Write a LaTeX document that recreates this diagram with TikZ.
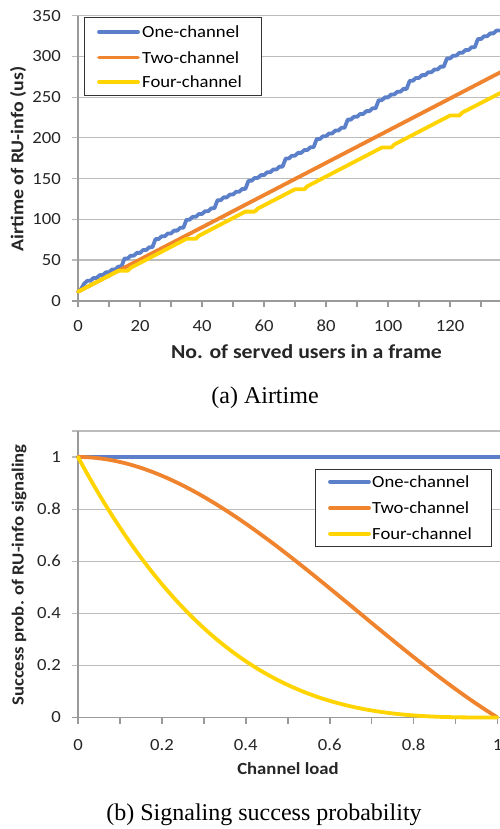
\documentclass[tikz,border=0pt]{standalone}
\usepackage{fontspec}
\setmainfont{Carlito}[FakeStretch=1.1]
\newfontfamily\capfont{Liberation Serif}
\definecolor{cblue}{HTML}{5B7FC8}
\definecolor{corange}{HTML}{F0842E}
\definecolor{cyellow}{HTML}{FFD400}
\definecolor{gridc}{HTML}{BCBCBC}
\definecolor{axisc}{HTML}{9A9A9A}
\definecolor{txt}{HTML}{262626}
\begin{document}
\begin{tikzpicture}[x=1pt,y=-1pt,
  gridline/.style={draw=gridc, line width=1.2pt},
  axisline/.style={draw=axisc, line width=1.6pt},
  series/.style={line width=3.8pt, line join=round, line cap=round},
  ticklab/.style={font=\fontsize{17}{17}\selectfont, text=txt, inner sep=0pt},
  axtitle/.style={font=\fontsize{17}{17}\selectfont\bfseries, text=txt, inner sep=0pt},
  legbox/.style={draw=black!80, line width=1pt, fill=white},
  legtext/.style={font=\fontsize{17}{17}\selectfont, text=black, inner sep=0pt, anchor=west},
  captext/.style={font=\capfont\fontsize{24}{24}\selectfont, inner sep=0pt, anchor=base}]

\fill[white] (0,0) rectangle (500,829);
\useasboundingbox (0,0) rectangle (500,829);

% ---------------- plot (a) ----------------
\foreach \v in {50,100,...,350} {
  \draw[gridline] (72,{300.7-0.8143*\v}) -- (500,{300.7-0.8143*\v});
}
\draw[axisline] (78,15.7) -- (78,306.7);
\draw[axisline] (72,300.7) -- (500,300.7);
\foreach \n in {10,20,...,130} {
  \draw[axisline] ({78+3.1*\n},300.7) -- ({78+3.1*\n},306.7);
}
\foreach \v in {0,50,...,350} {
  \node[ticklab, anchor=east] (ya\v) at (61,{300.7-0.8143*\v}) {\v};
}
\foreach \n in {0,20,...,120} {
  \node[ticklab, anchor=base] (xa\n) at ({78+3.1*\n},331) {\n};
}
\node[axtitle, rotate=90, font=\fontsize{18}{18}\selectfont\bfseries] (ytitleA) at (18,159) {Airtime of RU-info (us)};
\node[axtitle, anchor=base, font=\fontsize{19.8}{20}\selectfont\bfseries] (xtitleA) at (306.5,358.3) {No. of served users in a frame};

\begin{scope}[shift={(78,300.7)}, xscale=3.1, yscale=-0.8143]
  \draw[series, cblue] plot[domain=0:136, samples=137]
    (\x,{11+3.474*floor((\x+1.5)/2)+6.5*((\x>1.5)+(\x>14.5)+(\x>24.5)+(\x>34.5)+(\x>44.5)+(\x>54.5)+(\x>66.5)+(\x>76.5)+(\x>86.5)+(\x>96.5)+(\x>106.5)+(\x>118.5)+(\x>128.5))});
  \draw[series, corange] (0,11) -- (136.2,280.4);
  \draw[series, cyellow] (0,11) -- (13,36.71) -- (16,36.71) -- (17,40.43)
    -- (35,76.03) -- (38,76.03) -- (39,79.74) -- (54,109.41) -- (57,109.41)
    -- (58,113.12) -- (70,136.86) -- (73,136.86) -- (74,140.57) -- (98,188.04)
    -- (101,188.04) -- (102,191.76) -- (120,227.36) -- (123,227.36)
    -- (124,231.07) -- (136.2,255.0);
\end{scope}

\draw[legbox] (84,18) rectangle (261,96);
\draw[series, cblue] (99,32) -- (138,32);
\draw[series, corange] (99,57.5) -- (138,57.5);
\draw[series, cyellow] (99,82) -- (138,82);
\node[legtext] (legA1) at (142,32) {One-channel};
\node[legtext] (legA2) at (142,57.5) {Two-channel};
\node[legtext] (legA3) at (142,82) {Four-channel};

\node[captext] (capA) at (265,403) {(a) Airtime};

% ---------------- plot (b) ----------------
\foreach \v in {0.2,0.4,0.6,0.8,1,1.1} {
  \draw[gridline] (72,{717.5-260.5*\v}) -- (500,{717.5-260.5*\v});
}
\draw[axisline] (78,431) -- (78,723.5);
\draw[axisline] (72,717.5) -- (500,717.5);
\foreach \i in {1,...,10} {
  \draw[axisline] ({78+41.95*\i},717.5) -- ({78+41.95*\i},723.5);
}
\foreach \v/\nm in {0/0,0.2/1,0.4/2,0.6/3,0.8/4,1/5} {
  \node[ticklab, anchor=east] (yb\nm) at (61,{717.5-260.5*\v}) {\v};
}
\foreach \v/\nm in {0/0,0.2/1,0.4/2,0.6/3,0.8/4,1/5} {
  \node[ticklab, anchor=base] (xb\nm) at ({78+419.5*\v},750) {\v};
}
\node[axtitle, rotate=90] (ytitleB) at (19,575) {Success prob. of RU-info signaling};
\node[axtitle, anchor=base] (xtitleB) at (288,774) {Channel load};

\begin{scope}[shift={(78,717.5)}, xscale=419.5, yscale=-260.5]
  \draw[series, cblue] (0,1) -- (1.01,1);
  \draw[series, corange] plot[domain=0:1, samples=80] (\x,{1-2*\x*\x+\x*\x*\x});
  \draw[series, cyellow] plot[domain=0:1, samples=80] (\x,{(1-\x)*(1-\x)*(1-\x)});
\end{scope}

\draw[legbox] (315,469) rectangle (491,546);
\draw[series, cblue] (330,481.7) -- (369,481.7);
\draw[series, corange] (330,508) -- (369,508);
\draw[series, cyellow] (330,533.7) -- (369,533.7);
\node[legtext] (legB1) at (372,481.7) {One-channel};
\node[legtext] (legB2) at (372,508) {Two-channel};
\node[legtext] (legB3) at (372,533.7) {Four-channel};

\node[captext] (capB) at (264,820) {(b) Signaling success probability};
\end{tikzpicture}
\end{document}
